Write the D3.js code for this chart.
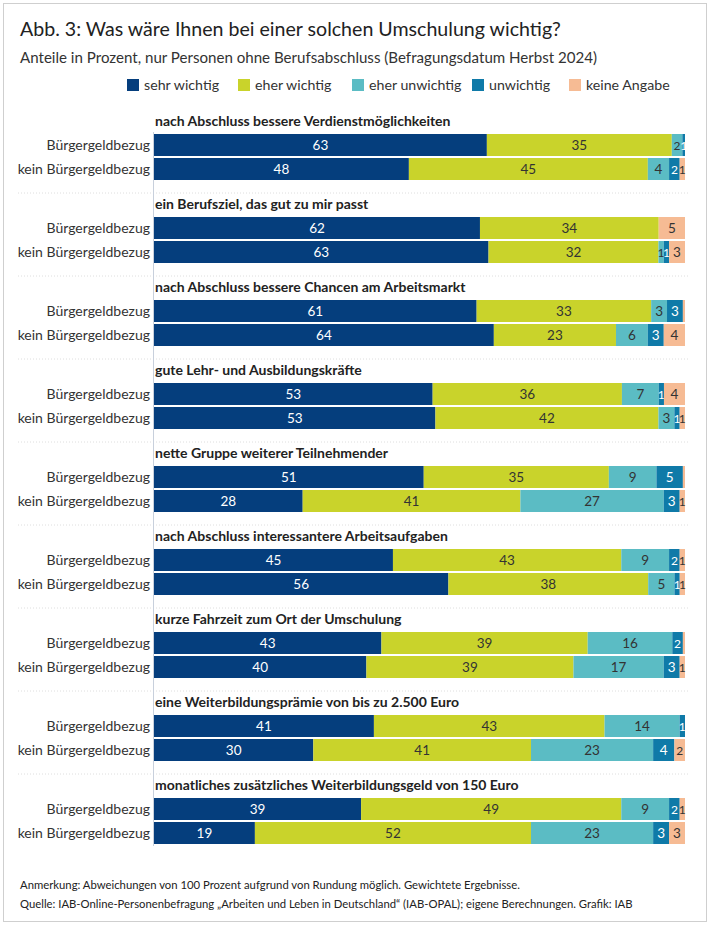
<!DOCTYPE html>
<html>
<head>
<meta charset="utf-8">
<script src="https://cdn.jsdelivr.net/npm/d3@7"></script>
<style>
  body { margin: 0; background: #fff; }
  svg text { font-family: Lato, "Open Sans", sans-serif; }
</style>
</head>
<body>
<div id="chart"></div>
<script>
// Umschulung: was ist wichtig? (Anteile in Prozent)
var categories = [
    "nach Abschluss bessere Verdienstmöglichkeiten",
    "ein Berufsziel, das gut zu mir passt",
    "nach Abschluss bessere Chancen am Arbeitsmarkt",
    "gute Lehr- und Ausbildungskräfte",
    "nette Gruppe weiterer Teilnehmender",
    "nach Abschluss interessantere Arbeitsaufgaben",
    "kurze Fahrzeit zum Ort der Umschulung",
    "eine Weiterbildungsprämie von bis zu 2.500 Euro",
    "monatliches zusätzliches Weiterbildungsgeld von 150 Euro"
];

var groups = ["Bürgergeldbezug", "kein Bürgergeldbezug"];

var seriesNames = ["sehr wichtig", "eher wichtig", "eher unwichtig", "unwichtig", "keine Angabe"];
var seriesColors = ["#053e7d", "#c9d32b", "#5bbcc4", "#0f7aa8", "#f6bb94"];

// sehr wichtig, eher wichtig, eher unwichtig, unwichtig, keine Angabe
var bezug = [
    [63, 35, 2, 0.5, 0],
    [62, 34, 0, 0, 5],
    [61, 33, 3, 3, 0.4],
    [53, 36, 7, 1, 4],
    [51, 35, 9, 5, 0.4],
    [45, 43, 9, 2, 1],
    [43, 39, 16, 2, 0.4],
    [41, 43, 14, 1, 0],
    [39, 49, 9, 2, 1]
];

var keinBezug = [
    [48, 45, 4, 2, 1],
    [63, 32, 1, 1, 3],
    [64, 23, 6, 3, 4],
    [53, 42, 3, 1, 1],
    [28, 41, 27, 3, 1],
    [56, 38, 5, 1, 1],
    [40, 39, 17, 3, 1],
    [30, 41, 23, 4, 2],
    [19, 52, 23, 3, 3]
];

var xTicks = [0, 100];

const width = 711;
const height = 926;

const svg = d3.select("#chart")
    .append("svg")
    .attr("width", width)
    .attr("height", height);

// frame
svg.append("rect")
    .attr("x", 3.5)
    .attr("y", 3.5)
    .attr("width", 703)
    .attr("height", 918)
    .attr("fill", "none")
    .attr("stroke", "#cfcfcf");

svg.append("text")
    .attr("x", 20)
    .attr("y", 36)
    .style("font-size", "19.6px")
    .style("fill", "#222")
    .text("Abb. 3: Was wäre Ihnen bei einer solchen Umschulung wichtig?");

svg.append("text")
    .attr("x", 20)
    .attr("y", 63)
    .style("font-size", "15.1px")
    .style("fill", "#333")
    .text("Anteile in Prozent, nur Personen ohne Berufsabschluss (Befragungsdatum Herbst 2024)");

// legend
var legendX = [127, 238, 352, 472, 569];
var legend = svg.append("g").attr("class", "legend");
seriesNames.forEach(function (name, i) {
    var g = legend.append("g").attr("transform", "translate(" + legendX[i] + ",79)");
    g.append("rect")
        .attr("width", 12)
        .attr("height", 12)
        .attr("fill", seriesColors[i]);
    g.append("text")
        .attr("x", 17)
        .attr("y", 11)
        .style("font-size", "14.2px")
        .style("fill", "#333")
        .text(name);
});

// scales
var x = d3.scaleLinear()
    .domain([xTicks[0], xTicks[1]])
    .range([154, 685]);

var yCat = d3.scaleBand()
    .domain(categories)
    .range([108, 108 + 83 * categories.length]);

var yRow = d3.scaleBand()
    .domain(groups)
    .range([26, 72])
    .paddingInner(0.0833);

// stacked rows, each normalised to 100
var rows = [];
categories.forEach(function (c, ci) {
    [bezug[ci], keinBezug[ci]].forEach(function (vals, gi) {
        var total = d3.sum(vals);
        var acc = 0;
        var segs = vals.map(function (v, si) {
            var share = v / total * 100;
            var s = { cat: c, group: groups[gi], series: si, value: v, x0: acc, x1: acc + share };
            acc += share;
            return s;
        });
        rows.push({ cat: c, group: groups[gi], segs: segs });
    });
});

var catG = svg.selectAll("g.cat")
    .data(categories)
    .enter()
    .append("g")
    .attr("class", "cat")
    .attr("transform", function (d) { return "translate(0," + yCat(d) + ")"; });

catG.append("text")
    .attr("x", 155)
    .attr("y", 18)
    .style("font-size", "14px")
    .style("font-weight", "bold")
    .style("fill", "#222")
    .text(function (d) { return d; });

// dotted separators between groups
catG.filter(function (d, i) { return i < categories.length - 1; })
    .append("line")
    .attr("x1", 18)
    .attr("x2", 688)
    .attr("y1", 85)
    .attr("y2", 85)
    .attr("stroke", "#dedede")
    .attr("stroke-dasharray", "1,2");

var rowG = svg.selectAll("g.row")
    .data(rows)
    .enter()
    .append("g")
    .attr("class", "row")
    .attr("transform", function (d) { return "translate(0," + (yCat(d.cat) + yRow(d.group)) + ")"; });

rowG.append("text")
    .attr("x", 150)
    .attr("y", yRow.bandwidth() / 2 + 5)
    .attr("text-anchor", "end")
    .style("font-size", "14px")
    .style("fill", "#333")
    .text(function (d) { return d.group; });

rowG.selectAll("rect")
    .data(function (d) { return d.segs; })
    .enter()
    .append("rect")
    .attr("x", function (d) { return x(d.x0); })
    .attr("width", function (d) { return x(d.x1) - x(d.x0); })
    .attr("y", 0)
    .attr("height", yRow.bandwidth())
    .attr("fill", function (d) { return seriesColors[d.series]; });

rowG.selectAll("text.val")
    .data(function (d) { return d.segs.filter(function (s) { return Math.round(s.value) >= 1; }); })
    .enter()
    .append("text")
    .attr("class", "val")
    .attr("x", function (d) { return (x(d.x0) + x(d.x1)) / 2; })
    .attr("y", yRow.bandwidth() / 2 + 5)
    .attr("text-anchor", "middle")
    .style("font-size", function (d) { return d.value < 2.5 ? "12px" : "13.5px"; })
    .style("fill", function (d) { return (d.series == 0 || d.series == 3) ? "#fff" : "#333"; })
    .text(function (d) { return Math.round(d.value); });

// left axis line
svg.append("line")
    .attr("x1", x(0) - 0.5)
    .attr("x2", x(0) - 0.5)
    .attr("y1", yCat(categories[0]) + 24)
    .attr("y2", yCat(categories[categories.length - 1]) + 74)
    .attr("stroke", "#c8d0dc")
    .attr("stroke-width", 1);

// footer
svg.append("text")
    .attr("x", 20)
    .attr("y", 889)
    .style("font-size", "11.3px")
    .style("fill", "#222")
    .text("Anmerkung: Abweichungen von 100 Prozent aufgrund von Rundung möglich. Gewichtete Ergebnisse.");

svg.append("text")
    .attr("x", 20)
    .attr("y", 908)
    .style("font-size", "11.3px")
    .style("fill", "#222")
    .text("Quelle: IAB-Online-Personenbefragung „Arbeiten und Leben in Deutschland“ (IAB-OPAL); eigene Berechnungen. Grafik: IAB");
</script>
</body>
</html>
